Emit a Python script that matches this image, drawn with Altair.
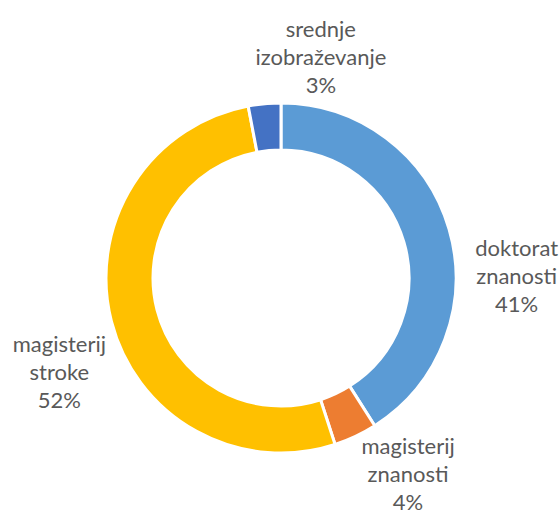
import altair as alt
import pandas as pd

categories = ["doktorat znanosti", "magisterij znanosti", "magisterij stroke", "srednje izobraževanje"]
line1 = ["doktorat", "magisterij", "magisterij", "srednje"]
line2 = ["znanosti", "znanosti", "stroke", "izobraževanje"]
percent = [41, 4, 52, 3]
colors = ["#5B9BD5", "#ED7D31", "#FFC000", "#4472C4"]

# label nudges (pixels) relative to polar anchor, style only
nudges = [(10, 37), (27, -44), (6, 9), (62, -14)]

df = pd.DataFrame({
    "cat": categories,
    "value": percent,
    "order": list(range(len(categories))),
    "label": [f"{a}\n{b}\n{p}%" for a, b, p in zip(line1, line2, percent)],
})

CX, CY = 281, 278

base = alt.Chart(df).transform_stack(
    stack="value", groupby=[], as_=["v0", "v1"], sort=[alt.SortField("order")]
).transform_calculate(mid="(datum.v0 + datum.v1) / 2")

theta_scale = alt.Scale(domain=[0, 100])

arc = base.mark_arc(outerRadius=175, innerRadius=128, stroke="white", strokeWidth=3).encode(
    theta=alt.Theta("v0:Q", scale=theta_scale, stack=None),
    theta2="v1:Q",
    color=alt.Color("cat:N", scale=alt.Scale(domain=categories, range=colors), legend=None),
    x=alt.value(CX),
    y=alt.value(CY),
)

layers = [arc]
for cat, (dx, dy) in zip(categories, nudges):
    t = base.transform_filter(alt.datum.cat == cat).mark_text(
        radius=235, dx=dx, dy=dy, lineBreak="\n", fontSize=22, font="Lato",
        color="#595959", align="center", baseline="middle", lineHeight=28,
    ).encode(
        theta=alt.Theta("mid:Q", scale=theta_scale, stack=None),
        text="label:N",
        x=alt.value(CX),
        y=alt.value(CY),
    )
    layers.append(t)

chart = alt.layer(*layers).properties(
    width=560, height=510, padding=0,
    autosize=alt.AutoSizeParams(type="none"),
).configure_view(stroke=None)

chart.save("out.html", embed_options={"renderer": "svg", "actions": False})
